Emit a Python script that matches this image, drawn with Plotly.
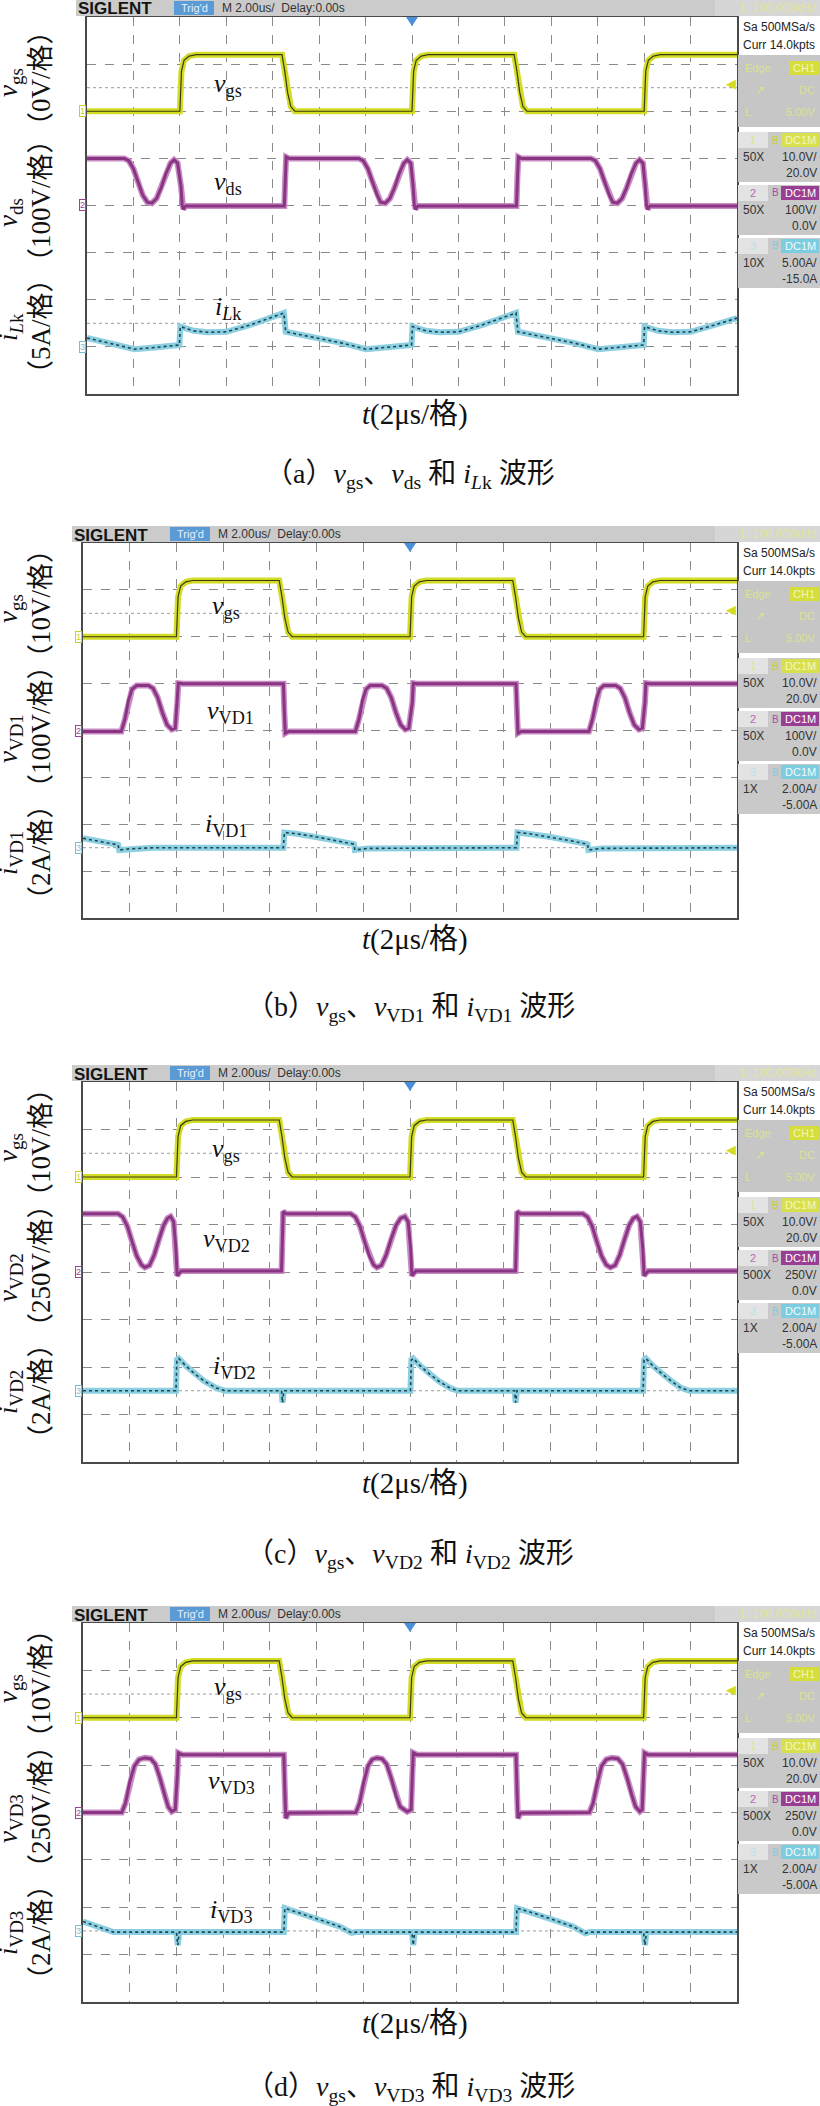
import plotly.graph_objects as go

W, H = 820, 2106

# waveforms: (time in us, value in V or A)
VGS = [(-14, 0), (-10.0, 0), (-9.93, 8.5), (-9.82, 10.8), (-9.6, 11.7), (-9.3, 12.0), (-5.6, 12.0),
       (-5.48, 8.5), (-5.36, 4.0), (-5.22, 1.0), (-5.05, 0), (0.0, 0), (0.07, 8.5), (0.18, 10.8),
       (0.4, 11.7), (0.7, 12.0), (4.4, 12.0), (4.52, 8.5), (4.64, 4.0), (4.78, 1.0), (4.95, 0),
       (10.0, 0), (10.07, 8.5), (10.18, 10.8), (10.4, 11.7), (10.7, 12.0), (14, 12.0)]

VDS = [(-14, 100), (-12.4, 100), (-12.2, 95), (-12.0, 78), (-11.8, 50), (-11.6, 22), (-11.4, 7),
       (-11.2, 5), (-11.0, 15), (-10.8, 38), (-10.6, 68), (-10.4, 90), (-10.25, 97), (-10.1, 90),
       (-9.95, 40), (-9.9, 0), (-9.85, -8), (-9.75, -1), (-5.5, -1), (-5.46, 60), (-5.42, 103),
       (-5.3, 100), (-2.3, 100), (-2.1, 95), (-1.9, 78), (-1.7, 50), (-1.5, 22), (-1.35, 7),
       (-1.15, 5), (-0.95, 15), (-0.75, 38), (-0.55, 68), (-0.35, 90), (-0.2, 97), (-0.05, 90),
       (0.05, 40), (0.1, 0), (0.15, -8), (0.25, -1), (4.5, -1), (4.54, 60), (4.58, 103), (4.7, 100),
       (7.7, 100), (7.9, 95), (8.1, 78), (8.3, 50), (8.5, 22), (8.65, 7), (8.85, 5), (9.05, 15),
       (9.25, 38), (9.45, 68), (9.65, 90), (9.8, 97), (9.95, 90), (10.05, 40), (10.1, 0),
       (10.15, -8), (10.25, -1), (14, -1)]

ILK = [(-14, 0.95), (-12.9, 0.35), (-11.94, -0.25), (-11.0, -0.05), (-10.02, 0.2), (-9.98, 2.15),
       (-9.4, 1.7), (-8.8, 1.55), (-8.0, 1.6), (-7.0, 2.3), (-6.2, 3.0), (-5.52, 3.6), (-5.44, 1.6),
       (-4.2, 1.0), (-3.0, 0.4), (-1.98, -0.25), (-1.0, -0.05), (-0.02, 0.2), (0.02, 2.15),
       (0.6, 1.7), (1.2, 1.55), (2.0, 1.6), (3.0, 2.3), (3.8, 3.0), (4.48, 3.6), (4.56, 1.6),
       (5.8, 1.0), (7.0, 0.4), (8.02, -0.25), (9.0, -0.05), (9.98, 0.2), (10.02, 2.15),
       (10.6, 1.7), (11.2, 1.55), (12.0, 1.6), (13.0, 2.3), (14.0, 3.05)]

VVD1 = [(-14, -2), (-12.36, -2), (-12.2, 25), (-12.05, 65), (-11.9, 88), (-11.7, 96), (-11.2, 96),
        (-11.0, 90), (-10.8, 70), (-10.6, 38), (-10.4, 12), (-10.2, 2), (-10.05, 5), (-9.96, 60),
        (-9.92, 101), (-9.7, 100), (-5.42, 100), (-5.38, 40), (-5.34, -6), (-5.2, -2),
        (-2.34, -2), (-2.18, 25), (-2.03, 65), (-1.88, 88), (-1.7, 96), (-1.2, 96), (-1.0, 90),
        (-0.8, 70), (-0.6, 38), (-0.4, 12), (-0.2, 2), (-0.05, 5), (0.1, 60), (0.14, 101),
        (0.3, 100), (4.54, 100), (4.58, 40), (4.62, -6), (4.76, -2), (7.66, -2), (7.82, 25),
        (7.97, 65), (8.12, 88), (8.3, 96), (8.8, 96), (9.0, 90), (9.2, 70), (9.4, 38), (9.6, 12),
        (9.8, 2), (9.95, 5), (10.06, 60), (10.1, 101), (10.3, 100), (14, 100)]

IVD1 = [(-14, 0.4), (-13.4, 0.3), (-12.5, 0.12), (-12.45, -0.1), (-12.0, -0.05), (-11.0, 0),
        (-5.42, 0), (-5.38, 0.65), (-4.9, 0.6), (-4.1, 0.48), (-3.3, 0.33), (-2.4, 0.15),
        (-2.36, -0.1), (-1.8, -0.03), (4.56, 0), (4.6, 0.65), (5.1, 0.6), (5.9, 0.48),
        (6.7, 0.33), (7.6, 0.15), (7.64, -0.1), (8.2, -0.03), (14, 0)]

VVD2 = [(-14, 307), (-12.5, 307), (-12.3, 290), (-12.1, 240), (-11.9, 160), (-11.7, 85),
        (-11.5, 38), (-11.35, 24), (-11.15, 35), (-10.95, 90), (-10.75, 170), (-10.55, 245),
        (-10.38, 283), (-10.25, 292), (-10.12, 265), (-10.02, 120), (-9.97, -20), (-9.9, -8),
        (-9.8, 5), (-5.5, 5), (-5.46, 180), (-5.43, 318), (-5.3, 307),
        (-2.54, 307), (-2.34, 290), (-2.14, 240), (-1.94, 160), (-1.74, 85), (-1.56, 38),
        (-1.42, 24), (-1.22, 35), (-1.02, 90), (-0.82, 170), (-0.6, 245), (-0.4, 283),
        (-0.22, 292), (-0.08, 265), (0.03, 120), (0.08, -20), (0.15, -8), (0.25, 5),
        (4.52, 5), (4.56, 180), (4.59, 318), (4.72, 307),
        (7.4, 307), (7.6, 290), (7.8, 240), (8.0, 160), (8.2, 85), (8.4, 38), (8.58, 24),
        (8.78, 35), (8.98, 90), (9.18, 170), (9.38, 245), (9.56, 283), (9.72, 292), (9.86, 265),
        (9.97, 120), (10.02, -20), (10.09, -8), (10.2, 5), (14, 5)]

IVD2 = [(-14, 0), (-10.02, 0), (-9.98, 1.3), (-9.9, 1.36), (-9.6, 1.05), (-9.2, 0.7), (-8.8, 0.4),
        (-8.3, 0.12), (-7.92, 0), (-5.5, 0), (-5.46, -0.5), (-5.4, 0), (0.02, 0), (0.06, 1.3),
        (0.14, 1.36), (0.44, 1.05), (0.84, 0.7), (1.24, 0.4), (1.7, 0.12), (2.04, 0), (4.48, 0),
        (4.52, -0.5), (4.58, 0), (9.98, 0), (10.02, 1.3), (10.1, 1.36), (10.4, 1.05), (10.8, 0.7),
        (11.2, 0.4), (11.6, 0.12), (11.96, 0), (14, 0)]

VVD3 = [(-14, 0), (-12.34, 0), (-12.18, 50), (-12.0, 160), (-11.8, 245), (-11.6, 280),
        (-11.35, 288), (-11.1, 284), (-10.9, 255), (-10.7, 180), (-10.5, 90), (-10.35, 30),
        (-10.2, 5), (-10.05, 15), (-9.96, 200), (-9.92, 315), (-9.75, 305),
        (-5.4, 305), (-5.36, 120), (-5.32, -30), (-5.2, -3),
        (-2.32, 0), (-2.16, 50), (-1.98, 160), (-1.8, 245), (-1.62, 280), (-1.42, 288),
        (-1.2, 284), (-1.0, 255), (-0.8, 180), (-0.6, 90), (-0.42, 30), (-0.12, 4), (0.05, 15),
        (0.1, 200), (0.14, 315), (0.3, 305),
        (4.54, 305), (4.58, 120), (4.62, -30), (4.74, -3),
        (7.68, 0), (7.84, 50), (8.02, 160), (8.2, 245), (8.4, 280), (8.65, 288), (8.9, 284),
        (9.1, 255), (9.3, 180), (9.5, 90), (9.66, 30), (9.84, 5), (9.94, 15), (10.0, 200),
        (10.04, 315), (10.2, 305), (14, 305)]

IVD3 = [(-14, 0.4), (-13.4, 0.2), (-12.7, -0.05), (-10.0, -0.05), (-9.94, -0.6), (-9.88, -0.05),
        (-5.4, -0.05), (-5.36, 0.96), (-4.6, 0.72), (-3.8, 0.45), (-3.0, 0.18), (-2.5, -0.08),
        (-2.3, -0.05), (0.08, -0.05), (0.14, -0.6), (0.2, -0.05), (4.54, -0.05), (4.58, 0.96),
        (5.4, 0.72), (6.2, 0.45), (7.0, 0.18), (7.5, -0.1), (7.7, -0.05), (10.0, -0.05),
        (10.06, -0.6), (10.12, -0.05), (14, -0.05)]

# channel settings per screenshot (units per division, offset)
CH1_SCALE = [10, 10, 10, 10]
CH1_OFFSET = [20, 20, 20, 20]
CH2_SCALE = [100, 100, 250, 250]
CH2_OFFSET = [0, 0, 0, 0]
CH3_SCALE = [5, 2, 2, 2]
CH3_OFFSET = [-15, -5, -5, -5]

CH1_TEXT = [("50X", "10.0V/", "20.0V")] * 4
CH2_TEXT = [("50X", "100V/", "0.0V"), ("50X", "100V/", "0.0V"),
            ("500X", "250V/", "0.0V"), ("500X", "250V/", "0.0V")]
CH3_TEXT = [("10X", "5.00A/", "-15.0A"), ("1X", "2.00A/", "-5.00A"),
            ("1X", "2.00A/", "-5.00A"), ("1X", "2.00A/", "-5.00A")]

SERIES_2 = [VDS, VVD1, VVD2, VVD3]
SERIES_3 = [ILK, IVD1, IVD2, IVD3]

LABEL_2 = ["<i>v</i><sub>ds</sub>", "<i>v</i><sub>VD1</sub>", "<i>v</i><sub>VD2</sub>", "<i>v</i><sub>VD3</sub>"]
LABEL_3 = ["<i>i</i><sub><i>L</i>k</sub>", "<i>i</i><sub>VD1</sub>", "<i>i</i><sub>VD2</sub>", "<i>i</i><sub>VD3</sub>"]
UNIT_1 = ["（0V/格）", "（10V/格）", "（10V/格）", "（10V/格）"]
UNIT_2 = ["（100V/格）", "（100V/格）", "（250V/格）", "（250V/格）"]
UNIT_3 = ["（5A/格）", "（2A/格）", "（2A/格）", "（2A/格）"]
CAPTIONS = ["（a）<i>v</i><sub>gs</sub>、<i>v</i><sub>ds</sub> 和 <i>i</i><sub><i>L</i>k</sub> 波形",
            "（b）<i>v</i><sub>gs</sub>、<i>v</i><sub>VD1</sub> 和 <i>i</i><sub>VD1</sub> 波形",
            "（c）<i>v</i><sub>gs</sub>、<i>v</i><sub>VD2</sub> 和 <i>i</i><sub>VD2</sub> 波形",
            "（d）<i>v</i><sub>gs</sub>、<i>v</i><sub>VD3</sub> 和 <i>i</i><sub>VD3</sub> 波形"]

# page geometry (pixels)
TOP = [17, 543, 1082, 1623]
BOTTOM = [394, 918, 1462, 2002]
LEFT = [87, 83, 83, 83]
RIGHT = 737
CAPTION_Y = [475, 1008, 1555, 2088]
INNER = [[(228, 68), (228, 166), (228, 291)],
         [(226, 64), (230, 169), (226, 282)],
         [(226, 68), (226, 158), (235, 285)],
         [(228, 65), (232, 159), (232, 288)]]

SERIF = "Liberation Serif, Noto Sans CJK SC"
SANS = "Liberation Sans Narrow, Liberation Sans"
YEL, PUR, CYA = "#d3dc24", "#8a3584", "#8ccfe1"


def px(x):
    return x / W


def py(y):
    return 1 - y / H


def ax_id(letter, n):
    return letter if n == 1 else f"{letter}{n}"


shapes, notes = [], []


def rect(x0, y0, x1, y1, fill):
    shapes.append(dict(type="rect", xref="paper", yref="paper", x0=px(x0), x1=px(x1),
                       y0=py(y1), y1=py(y0), fillcolor=fill, layer="above", line=dict(width=0)))


def text(x, y, s, size, color, anchor="left", family=SANS, angle=0):
    notes.append(dict(x=px(x), y=py(y), xref="paper", yref="paper", text=s, showarrow=False,
                      xanchor=anchor, yanchor="middle", textangle=angle,
                      font=dict(family=family, size=size, color=color)))


fig = go.Figure()
layout = {}

for p in range(4):
    T, B, L = TOP[p], BOTTOM[p], LEFT[p]
    xid = ax_id("x", p + 1)
    yr = [ax_id("y", 3 * p + k) for k in (1, 2, 3)]
    scales = [(CH1_SCALE[p], CH1_OFFSET[p]), (CH2_SCALE[p], CH2_OFFSET[p]), (CH3_SCALE[p], CH3_OFFSET[p])]

    layout[xid.replace("x", "xaxis")] = dict(
        domain=[px(L), px(RIGHT)], range=[-14, 14], dtick=2, tick0=0,
        showgrid=True, gridcolor="#8a8a8a", griddash="dash", gridwidth=1,
        zeroline=False, showticklabels=False, ticks="", showline=True, mirror=True,
        linecolor="#4a4a4a", linewidth=1.5, anchor=yr[0], fixedrange=True)
    for k in range(3):
        s, off = scales[k]
        ax = dict(domain=[py(B), py(T)], range=[-4 * s - off, 4 * s - off], anchor=xid,
                  showticklabels=False, ticks="", zeroline=False, fixedrange=True)
        if k == 0:
            ax.update(dtick=s, tick0=-off, showgrid=True, gridcolor="#8a8a8a", griddash="dash",
                      showline=True, mirror=True, linecolor="#4a4a4a", linewidth=1.5)
        else:
            ax.update(overlaying=yr[0], showgrid=False, visible=False)
        layout[yr[k].replace("y", "yaxis")] = ax

    # trigger-level dotted lines
    for yd in (0.8125, 0.1875):
        shapes.append(dict(type="line", xref=f"{xid} domain", yref=f"{yr[0]} domain",
                           x0=0, x1=1, y0=yd, y1=yd, layer="below",
                           line=dict(color="#9a9a9a", width=1, dash="dot")))

    # traces: current, drain voltage, gate voltage
    t3, v3 = zip(*SERIES_3[p])
    t2, v2 = zip(*SERIES_2[p])
    t1, v1 = zip(*VGS)
    fig.add_trace(go.Scatter(x=t3, y=v3, xaxis=xid, yaxis=yr[2], mode="lines",
                             line=dict(color=CYA, width=6), hoverinfo="skip"))
    fig.add_trace(go.Scatter(x=t3, y=v3, xaxis=xid, yaxis=yr[2], mode="lines",
                             line=dict(color="#1d4654", width=1.6, dash="dot"), hoverinfo="skip"))
    fig.add_trace(go.Scatter(x=t2, y=v2, xaxis=xid, yaxis=yr[1], mode="lines",
                             line=dict(color="#c88cc3", width=6), hoverinfo="skip"))
    fig.add_trace(go.Scatter(x=t2, y=v2, xaxis=xid, yaxis=yr[1], mode="lines",
                             line=dict(color=PUR, width=3), hoverinfo="skip"))
    fig.add_trace(go.Scatter(x=t1, y=v1, xaxis=xid, yaxis=yr[0], mode="lines",
                             line=dict(color=YEL, width=6), hoverinfo="skip"))
    fig.add_trace(go.Scatter(x=t1, y=v1, xaxis=xid, yaxis=yr[0], mode="lines",
                             line=dict(color="#3a3a12", width=1.2), hoverinfo="skip"))

    # channel ground markers on the left edge
    for k, (lab, col) in enumerate([("1", "#c8d21e"), ("2", "#a0409a"), ("3", "#6fc3d9")]):
        notes.append(dict(x=px(L - 5), y=0, xref="paper", yref=yr[k], text=lab, showarrow=False,
                          xanchor="center", yanchor="middle", bgcolor="#ffffff",
                          bordercolor=col, borderwidth=1, borderpad=0,
                          font=dict(family=SANS, size=9, color=col)))
    # trigger level marker on the right edge
    notes.append(dict(x=px(RIGHT + 1), y=6, xref="paper", yref=yr[0], text="◀", showarrow=False,
                      xanchor="right", yanchor="middle", font=dict(size=13, color="#d3dc24")))
    # trigger position marker
    cx = (L + RIGHT) / 2
    shapes.append(dict(type="path", xref="paper", yref="paper", fillcolor="#4a90d9",
                       line=dict(width=0), layer="above",
                       path=f"M {px(cx - 6)},{py(T)} L {px(cx + 6)},{py(T)} L {px(cx)},{py(T + 9)} Z"))

    # header bar
    rect(L - 11, T - 17, 820, T - 1, "#cbcbcb")
    rect(715, T - 17, 820, T - 1, "#d6d6d6")
    text(L - 11, T - 8, "<b>SIGLENT</b>", 17, "#141414", family="Liberation Sans")
    rect(L + 87, T - 16, L + 127, T - 2, "#5a9bd6")
    text(L + 107, T - 9, "Trig'd", 11, "#e6f0ff", anchor="center")
    text(L + 133, T - 9, "M 2.00us/  Delay:0.00s", 12, "#333333")
    text(818, T - 9, "1: 100.000kHz", 12, "#e2e59a", anchor="right")

    # right-hand info panel
    text(741, T + 10, "Sa 500MSa/s", 12, "#222222")
    text(741, T + 28, "Curr 14.0kpts", 12, "#222222")
    rect(738, T + 38, 820, T + 110, "#c6c6c6")
    rect(789, T + 44, 819, T + 58, "#d5de3a")
    text(804, T + 51, "CH1", 11, "#f2f6c0", anchor="center")
    text(743, T + 51, "Edge", 11, "#dde28c")
    text(760, T + 73, "↗", 12, "#dde28c", anchor="center")
    text(817, T + 73, "DC", 11, "#dde28c", anchor="right")
    text(743, T + 95, "L", 11, "#dde28c")
    text(817, T + 95, "5.00V", 11, "#dde28c", anchor="right")
    boxes = [("1", "#dfe58a", "#c8d21e", "#d9e04e", "#f3f6c4", CH1_TEXT[p]),
             ("2", "#b36aad", "#b04aa8", "#9a3d94", "#ffffff", CH2_TEXT[p]),
             ("3", "#b9e2ec", "#7ccde0", "#7ccde0", "#eefaff", CH3_TEXT[p])]
    for k, (num, ncol, bcol, dfill, dtxt, info) in enumerate(boxes):
        top = T + 115 + k * 53
        rect(738, top, 820, top + 50, "#c9c9c9")
        rect(738, top, 768, top + 16, "#e3e3e3")
        text(753, top + 8, num, 11, ncol, anchor="center")
        text(775, top + 8, "B", 10, bcol, anchor="center")
        rect(781, top + 1, 819, top + 15, dfill)
        text(800, top + 8, "DC1M", 11, dtxt, anchor="center")
        text(741, top + 25, info[0], 12, "#333333")
        text(819, top + 25, info[1], 12, "#333333", anchor="right")
        text(819, top + 41, info[2], 12, "#333333", anchor="right")

    # left-hand axis labels (rotated)
    var_y = [T + 66, T + 196, T + 310]
    unit_y = [T + 61, T + 184, T + 309]
    vars_ = ["<i>v</i><sub>gs</sub>", LABEL_2[p], LABEL_3[p]]
    units = [UNIT_1[p], UNIT_2[p], UNIT_3[p]]
    for k in range(3):
        text(10, var_y[k], vars_[k], 27, "#111111", anchor="center", family=SERIF, angle=-90)
        text(41, unit_y[k], units[k], 27, "#111111", anchor="center", family=SERIF, angle=-90)

    # labels inside the screen
    for k, lab in enumerate(["<i>v</i><sub>gs</sub>", LABEL_2[p], LABEL_3[p]]):
        ix, iy = INNER[p][k]
        text(ix, T + iy, lab, 26, "#111111", anchor="center", family=SERIF)

    text(415, B + 21, "<i>t</i>(2μs/格)", 29, "#111111", anchor="center", family=SERIF)
    text(410, CAPTION_Y[p], CAPTIONS[p], 28, "#111111", anchor="center", family=SERIF)

fig.update_layout(**layout)
fig.update_layout(width=W, height=H, margin=dict(l=0, r=0, t=0, b=0),
                  paper_bgcolor="white", plot_bgcolor="white", showlegend=False,
                  shapes=shapes, annotations=notes)

fig.write_html("out.html", config={"displayModeBar": False},
               post_script="document.body.style.margin='0';")
